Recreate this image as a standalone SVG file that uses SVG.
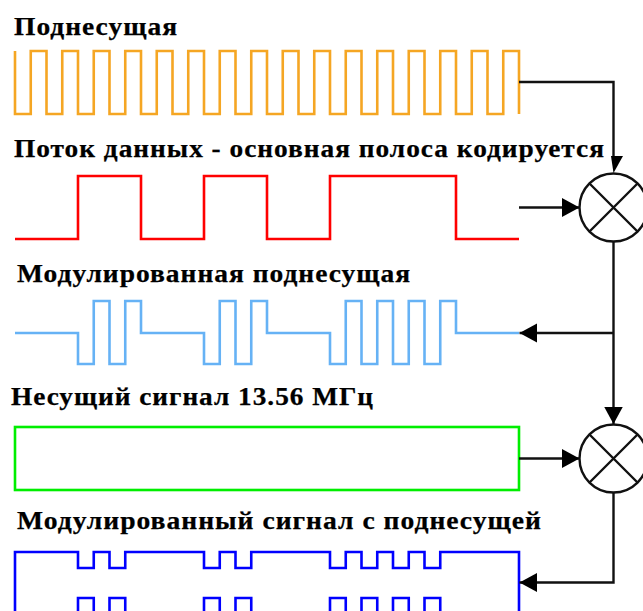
<svg xmlns="http://www.w3.org/2000/svg" width="643" height="611" viewBox="0 0 643 611">
<style>
.t{font-family:"Liberation Serif","Times New Roman",serif;font-weight:bold;font-size:25px;letter-spacing:.9px;fill:#000;stroke:#000;stroke-width:.25px}
.s{fill:none;stroke-width:2.6;stroke-linejoin:miter}
.c{fill:none;stroke:#111;stroke-width:2.4}
.a{fill:#000;stroke:none}
.m{fill:#fff;stroke:#111;stroke-width:2.4}
</style>
<defs>
<marker id="ah" markerUnits="userSpaceOnUse" markerWidth="18" markerHeight="20" refX="17.5" refY="9.5" orient="auto"><path class="a" d="M0,0L17.5,9.5L0,19Z"/></marker>
<clipPath id="cm"><rect width="643" height="611"/></clipPath>
</defs>
<g id="label-subcarrier"><text class="t" x="14" y="35" textLength="164" lengthAdjust="spacingAndGlyphs">Поднесущая</text></g>
<g id="signal-subcarrier"><path class="s" stroke="#f5a623" d="M15,51V114H30.75V51H46.5V114H62.25V51H78V114H93.75V51H109.5V114H125.25V51H141V114H156.75V51H172.5V114H188.25V51H204V114H219.75V51H235.5V114H251.25V51H267V114H282.75V51H298.5V114H314.25V51H330V114H345.75V51H361.5V114H377.25V51H393V114H408.75V51H424.5V114H440.25V51H456V114H471.75V51H487.5V114H503.25V51H519V114"/></g>
<g id="label-data"><text class="t" x="14" y="157" textLength="591" lengthAdjust="spacingAndGlyphs">Поток данных - основная полоса кодируется</text></g>
<g id="signal-data"><path class="s" stroke="#ff0000" d="M15,239H78V176H141V239H204V176H267V239H330V176H456V239H519"/></g>
<g id="label-modulated-subcarrier"><text class="t" x="17" y="282" textLength="394" lengthAdjust="spacingAndGlyphs">Модулированная поднесущая</text></g>
<g id="signal-modulated-subcarrier"><path class="s" stroke="#66b2f5" d="M15,333H78V364H93.75V301H109.5V364H125.25V301H141V333H204V364H219.75V301H235.5V364H251.25V301H267V333H330V364H345.75V301H361.5V364H377.25V301H393V364H408.75V301H424.5V364H440.25V301H456V333H519"/></g>
<g id="label-carrier"><text class="t" x="11" y="405" textLength="363" lengthAdjust="spacingAndGlyphs">Несущий сигнал 13.56 МГц</text></g>
<g id="signal-carrier"><rect class="s" stroke="#00ee00" x="15" y="427" width="504" height="63"/></g>
<g id="label-modulated-signal"><text class="t" x="17" y="529" textLength="525" lengthAdjust="spacingAndGlyphs">Модулированный сигнал с поднесущей</text></g>
<g id="signal-modulated"><path class="s" stroke="#0000ff" d="M15,611V552H78V568H93.75V552H109.5V568H125.25V552H204V568H219.75V552H235.5V568H251.25V552H330V568H345.75V552H361.5V568H377.25V552H393V568H408.75V552H424.5V568H440.25V552H519V611"/><path class="s" stroke="#0000ff" d="M78,611V598H93.75V611M109.5,611V598H125.25V611M204,611V598H219.75V611M235.5,611V598H251.25V611M330,611V598H345.75V611M361.5,611V598H377.25V611M393,611V598H408.75V611M424.5,611V598H440.25V611"/></g>
<g id="connectors">
<path class="c" d="M519,82H613.5V157"/>
<polygon class="a" points="611,156 623,156 613.5,173"/>
<path class="c" d="M519,207.5H579.5" marker-end="url(#ah)"/>
<path class="c" d="M613.5,241V424" marker-end="url(#ah)"/>
<path class="c" d="M613.5,333H519.5" marker-end="url(#ah)"/>
<path class="c" d="M519,458.5H579.5" marker-end="url(#ah)"/>
<path class="c" d="M613.5,492V582.5H519.5" marker-end="url(#ah)"/>
</g>
<g id="mixer-1" clip-path="url(#cm)"><circle class="m" cx="613.5" cy="207.5" r="34"/><path class="c" d="M589.5,183.5L637.5,231.5M637.5,183.5L589.5,231.5"/></g>
<g id="mixer-2" clip-path="url(#cm)"><circle class="m" cx="613.5" cy="458.5" r="34"/><path class="c" d="M589.5,434.5L637.5,482.5M637.5,434.5L589.5,482.5"/></g>
</svg>
